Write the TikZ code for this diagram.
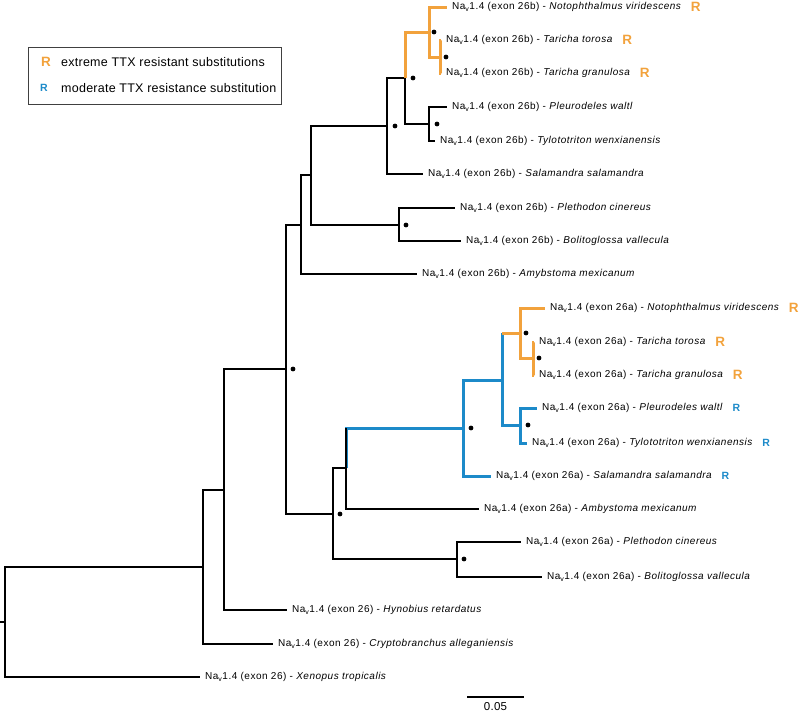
\documentclass[tikz,border=0pt]{standalone}
\usepackage{fontspec}
\setmainfont{Liberation Sans}
\newfontfamily\labfont[LetterSpace=5]{Liberation Sans}
\newfontfamily\legfont[LetterSpace=2]{Liberation Sans}
\usetikzlibrary{calc}
\definecolor{ttxorange}{HTML}{F2A23C}
\definecolor{ttxblue}{HTML}{1C8AC9}
\newcommand{\nav}{Na\textsubscript{v}1.4}

\begin{document}
\begin{tikzpicture}[x=1pt, y=-1pt,
  edge/.style={line width=1.3pt},
  hotedge/.style={line width=3pt, ttxorange},
  modedge/.style={line width=3pt, ttxblue},
  lab/.style={anchor=west, inner xsep=5pt, inner ysep=0pt, font=\labfont\fontsize{10}{12}\selectfont},
  bs/.style={circle, fill, inner sep=0pt, minimum size=4.8pt},
  hotR/.style={anchor=west, inner sep=0pt, text=ttxorange, font=\legfont\bfseries\fontsize{13.5}{14}\selectfont},
  modR/.style={anchor=west, inner sep=0pt, text=ttxblue, font=\legfont\bfseries\fontsize{10.5}{12}\selectfont},
  legtxt/.style={anchor=west, inner sep=0pt, font=\legfont\fontsize{12.5}{14}\selectfont}]
  \useasboundingbox (0,0) rectangle (800,713);

  % Legend
  \draw[line width=0.8pt, black!75] (28,47) rectangle (281,104);
  \node[hotR, anchor=center] (lgHot) at (46,62) {R};
  \node[legtxt] (lgHotTxt) at (61,62) {extreme TTX resistant substitutions};
  \node[modR, anchor=center] (lgMod) at (44,88) {R};
  \node[legtxt] (lgModTxt) at (61,88) {moderate TTX resistance substitution};

  %% Internal nodes (x = branch point, y = middle of children)
  \coordinate (stub) at (0,622);
  \coordinate (root) at (5,622);
  \coordinate (amph) at (203,567);
  \coordinate (cau)  at (224,490);
  \coordinate (sal)  at (286,369);
  % exon 26b paralogue
  \coordinate (bAll)  at (301,225);
  \coordinate (bSP)   at (311,175);
  \coordinate (bPB)   at (399,225);
  \coordinate (bSal)  at (387,126);
  \coordinate (bNewt) at (405,78);
  \coordinate (bNT)   at (429,32);
  \coordinate (bTar)  at (440,57);
  \coordinate (bPT)   at (429,124);
  % exon 26a paralogue
  \coordinate (aAll)   at (333,514);
  \coordinate (aPB)    at (457,559);
  \coordinate (aSNode) at (346,468);
  \coordinate (aSal)   at (463,428);
  \coordinate (aNewt)  at (502,380);
  \coordinate (aNT)    at (520,333);
  \coordinate (aTar)   at (533,358);
  \coordinate (aPT)    at (520,425);

  %% Tips
  \node[lab] (bNoto) at (447,7)   {\nav{} (exon 26b) - \textit{Notophthalmus viridescens}};
  \node[lab] (bTtor) at (441,40)  {\nav{} (exon 26b) - \textit{Taricha torosa}};
  \node[lab] (bTgra) at (441,73)  {\nav{} (exon 26b) - \textit{Taricha granulosa}};
  \node[lab] (bPleu) at (447,107) {\nav{} (exon 26b) - \textit{Pleurodeles waltl}};
  \node[lab] (bTylo) at (435,141) {\nav{} (exon 26b) - \textit{Tylototriton wenxianensis}};
  \node[lab] (bSala) at (423,174) {\nav{} (exon 26b) - \textit{Salamandra salamandra}};
  \node[lab] (bPlet) at (455,208) {\nav{} (exon 26b) - \textit{Plethodon cinereus}};
  \node[lab] (bBoli) at (461,241) {\nav{} (exon 26b) - \textit{Bolitoglossa vallecula}};
  \node[lab] (bAmby) at (417,274) {\nav{} (exon 26b) - \textit{Amybstoma mexicanum}};
  \node[lab] (aNoto) at (545,308) {\nav{} (exon 26a) - \textit{Notophthalmus viridescens}};
  \node[lab] (aTtor) at (534,342) {\nav{} (exon 26a) - \textit{Taricha torosa}};
  \node[lab] (aTgra) at (534,375) {\nav{} (exon 26a) - \textit{Taricha granulosa}};
  \node[lab] (aPleu) at (537,408) {\nav{} (exon 26a) - \textit{Pleurodeles waltl}};
  \node[lab] (aTylo) at (527,443) {\nav{} (exon 26a) - \textit{Tylototriton wenxianensis}};
  \node[lab] (aSala) at (491,476) {\nav{} (exon 26a) - \textit{Salamandra salamandra}};
  \node[lab] (aAmby) at (479,509) {\nav{} (exon 26a) - \textit{Ambystoma mexicanum}};
  \node[lab] (aPlet) at (521,542) {\nav{} (exon 26a) - \textit{Plethodon cinereus}};
  \node[lab] (aBoli) at (542,577) {\nav{} (exon 26a) - \textit{Bolitoglossa vallecula}};
  \node[lab] (hyn) at (287,610) {\nav{} (exon 26) - \textit{Hynobius retardatus}};
  \node[lab] (cry) at (273,644) {\nav{} (exon 26) - \textit{Cryptobranchus alleganiensis}};
  \node[lab] (xen) at (200,677) {\nav{} (exon 26) - \textit{Xenopus tropicalis}};

  %% Branches
  \draw[edge] (stub) -- (root);
  \foreach \p/\c in {root/amph, root/xen, amph/cau, amph/cry, cau/sal, cau/hyn,
                     sal/bAll, sal/aAll, bAll/bSP, bAll/bAmby, bSP/bSal, bSP/bPB,
                     bPB/bPlet, bPB/bBoli, bSal/bNewt, bSal/bSala, bNewt/bPT,
                     bPT/bPleu, bPT/bTylo, aAll/aSNode, aAll/aPB, aPB/aPlet,
                     aPB/aBoli, aSNode/aAmby}
    \draw[edge] (\p) |- (\c);
  % extreme resistance lineages
  \foreach \p/\c in {bNewt/bNT, bNT/bNoto, bNT/bTar, bTar/bTtor, bTar/bTgra,
                     aNT/aNoto, aNT/aTar, aTar/aTtor, aTar/aTgra}
    \draw[hotedge] (\p) |- (\c);
  % moderate resistance lineages
  \foreach \p/\c in {aSNode/aSal, aSal/aSala, aSal/aNewt, aNewt/aPT, aPT/aPleu, aPT/aTylo}
    \draw[modedge] (\p) |- (\c);
  \draw[modedge] (aNewt) -- (aNewt |- aNT);
  \draw[hotedge] (aNewt |- aNT) -- (aNT);
  \draw[edge, xshift=-0.8pt] (aSNode) -- (aSNode |- aSal);

  %% Support dots
  \foreach \n/\dx in {bNT/5, bTar/6, bNewt/8, bPT/8, bSal/8, bPB/7, sal/7,
                      aNT/6, aTar/6, aPT/8, aSal/8, aAll/7, aPB/7}
    \node[bs] (d\n) at ($(\n)+(\dx,0)$) {};

  %% Resistance marks
  \foreach \t in {bNoto, bTtor, bTgra, aNoto, aTtor, aTgra}
    \node[hotR] (r\t) at ([xshift=4pt]\t.east) {R};
  \foreach \t in {aPleu, aTylo, aSala}
    \node[modR] (r\t) at ([xshift=4pt]\t.east) {R};

  % Scale bar
  \coordinate (sbL) at (467,697);
  \coordinate (sbR) at (524,697);
  \draw[edge] (sbL) -- (sbR);
  \node[legtxt, anchor=center, font=\legfont\fontsize{11.5}{13}\selectfont] (sbTxt) at ($(sbL)!0.5!(sbR)+(0,10)$) {0.05};
\end{tikzpicture}
\end{document}
